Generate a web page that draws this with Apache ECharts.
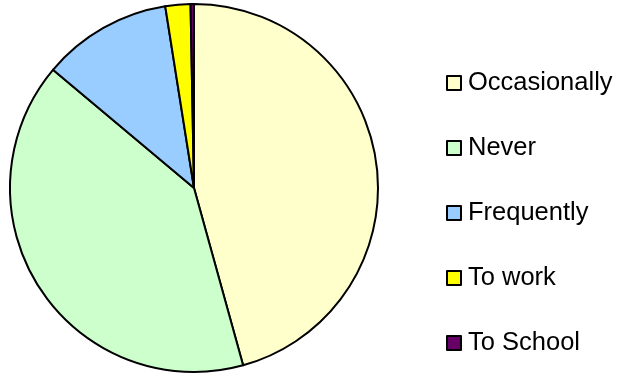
<!DOCTYPE html>
<html>
<head>
<meta charset="utf-8">
<script src="https://cdn.jsdelivr.net/npm/echarts@6/dist/echarts.min.js"></script>
<style>
  html, body { margin: 0; padding: 0; background: #ffffff; }
  #chart { width: 618px; height: 376px; }
</style>
</head>
<body>
<div id="chart"></div>
<script>
// Travel frequency shares, drawn clockwise from 12 o'clock
const categories = ['Occasionally', 'Never', 'Frequently', 'To work', 'To School'];
const shares = [45.7, 40.4, 11.4, 2.2, 0.3];
const sliceColors = ['#FFFFCC', '#CCFFCC', '#99CCFF', '#FFFF00', '#660066'];

const chart = echarts.init(document.getElementById('chart'), null, { renderer: 'canvas' });

chart.setOption({
  animation: false,
  backgroundColor: '#ffffff',
  color: sliceColors,
  legend: {
    orient: 'vertical',
    left: 446,
    top: 70,
    padding: 0,
    itemWidth: 14,
    itemHeight: 14,
    itemGap: 39,
    icon: 'rect',
    selectedMode: false,
    itemStyle: { borderColor: '#000000', borderWidth: 2 },
    textStyle: {
      fontFamily: '"Liberation Sans", Arial, sans-serif',
      fontSize: 25.5,
      lineHeight: 24,
      color: '#000000',
      padding: [0, 0, 0, 2]
    },
    data: categories
  },
  series: [{
    type: 'pie',
    center: [194, 188],
    radius: 184,
    startAngle: 90,
    clockwise: true,
    label: { show: false },
    labelLine: { show: false },
    emphasis: { disabled: true },
    itemStyle: { borderColor: '#000000', borderWidth: 2 },
    data: categories.map((name, i) => ({ name: name, value: shares[i] }))
  }]
});
</script>
</body>
</html>
